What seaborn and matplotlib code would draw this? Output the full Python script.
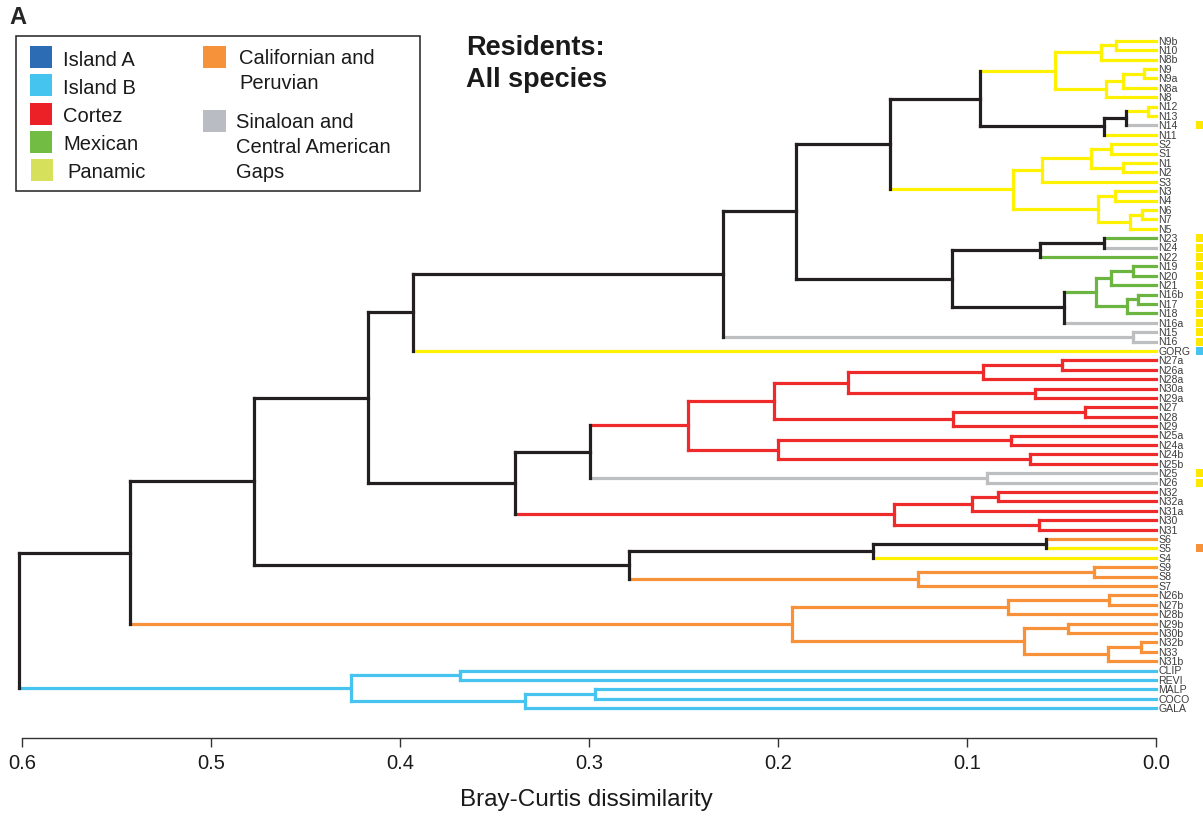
import matplotlib
matplotlib.use("Agg")
import matplotlib.pyplot as plt
import seaborn as sns
from matplotlib.patches import Rectangle
from matplotlib.transforms import blended_transform_factory

# leaves, top to bottom
leaves = ["N9b", "N10", "N8b", "N9", "N9a", "N8a", "N8", "N12", "N13", "N14", "N11",
          "S2", "S1", "N1", "N2", "S3", "N3", "N4", "N6", "N7", "N5",
          "N23", "N24", "N22", "N19", "N20", "N21", "N16b", "N17", "N18", "N16a",
          "N15", "N16", "GORG",
          "N27a", "N26a", "N28a", "N30a", "N29a", "N27", "N28", "N29",
          "N25a", "N24a", "N24b", "N25b", "N25", "N26",
          "N32", "N32a", "N31a", "N30", "N31",
          "S6", "S5", "S4", "S9", "S8", "S7",
          "N26b", "N27b", "N28b", "N29b", "N30b", "N32b", "N33", "N31b",
          "CLIP", "REVI", "MALP", "COCO", "GALA"]

# province of each leaf (P panamic, G gaps, M mexican, C cortez, O californian, B island B)
leaf_groups = (["P"] * 9 + ["G", "P"] + ["P"] * 10 +
               ["M", "G", "M"] + ["M"] * 6 + ["G"] +
               ["G", "G", "P"] +
               ["C"] * 12 + ["G", "G"] + ["C"] * 5 +
               ["O", "P", "P", "O", "O", "O"] +
               ["O"] * 8 + ["B"] * 5)

# side markers
marker_leaves = ["N14", "N23", "N24", "N22", "N19", "N20", "N21", "N16b", "N17",
                 "N18", "N16a", "N15", "N16", "GORG", "N25", "N26", "S5"]
marker_groups = ["P"] * 13 + ["B", "P", "P", "O"]

# clusters: (upper, lower, height)
clu_a = ((("N9b", "N10", 0.021), "N8b", 0.029),
         ((("N9", "N9a", 0.0063), "N8a", 0.0176), "N8", 0.0266), 0.0534)
clu_b = ((("N12", "N13", 0.0042), "N14", 0.0159), "N11", 0.0275)
clu_c = (((("S2", "S1", 0.024), ("N1", "N2", 0.0176), 0.0346), "S3", 0.0603),
         (("N3", "N4", 0.0217), (("N6", "N7", 0.0074), "N5", 0.0138), 0.0309), 0.0758)
clu_d = ((("N23", "N24", 0.0275), "N22", 0.0614),
         (((("N19", "N20", 0.0123), "N21", 0.024),
           (("N16b", "N17", 0.0097), "N18", 0.0153), 0.0317), "N16a", 0.0487), 0.108)
clu_e = ((((clu_a, clu_b, 0.0931), clu_c, 0.141), clu_d, 0.1905),
         ("N15", "N16", 0.0122), 0.229)
clu_r1 = (((("N27a", "N26a", 0.0499), "N28a", 0.0917), ("N30a", "N29a", 0.064), 0.1628),
          (("N27", "N28", 0.0376), "N29", 0.1072), 0.202)
clu_r2 = (("N25a", "N24a", 0.0769), ("N24b", "N25b", 0.0667), 0.1998)
clu_r3 = ((("N32", "N32a", 0.0834), "N31a", 0.0972), ("N30", "N31", 0.0619), 0.1386)
clu_r = (((clu_r1, clu_r2, 0.2474), ("N25", "N26", 0.0896), 0.2997), clu_r3, 0.339)
clu_s = ((("S6", "S5", 0.0582), "S4", 0.1496), (("S9", "S8", 0.0328), "S7", 0.1257), 0.2787)
clu_o = ((("N26b", "N27b", 0.0247), "N28b", 0.0785),
         (("N29b", "N30b", 0.0467), (("N32b", "N33", 0.0079), "N31b", 0.0256), 0.0697), 0.1926)
clu_i = (("CLIP", "REVI", 0.3685), (("MALP", "COCO", 0.2968), "GALA", 0.3339), 0.426)
tree = (((((clu_e, "GORG", 0.393), clu_r, 0.417), clu_s, 0.477), clu_o, 0.543), clu_i, 0.6016)

xticks = [0.6, 0.5, 0.4, 0.3, 0.2, 0.1, 0.0]

tree_colors = {"P": "#fff200", "G": "#bcbec0", "M": "#6db541", "C": "#ee2a2b",
               "O": "#f7923a", "B": "#46c3ee", "mix": "#231f20"}
marker_colors = {"P": "#ffe800", "B": "#46c3ee", "O": "#f7923a"}

legend_left = [("Island A", "#2b6cb5"), ("Island B", "#45c4f0"), ("Cortez", "#ec2027"),
               ("Mexican", "#72bc44"), ("Panamic", "#d6e05b")]
legend_right = [("Californian and\nPeruvian", "#f6923a"),
                ("Sinaloan and\nCentral American\nGaps", "#b9bcc3")]

sns.set_theme(style="white")
plt.rcParams["font.family"] = ["Liberation Sans", "DejaVu Sans"]

W, H = 1203, 820
fig = plt.figure(figsize=(W / 100, H / 100), dpi=100)


def px(x, y):
    return x / W, 1 - y / H


ax = fig.add_axes([22 / W, (H - 739) / H, 1134 / W, 739 / H])
ax.set_xlim(0.6, 0.0)
ax.set_ylim((739 - 41.7) / 9.4, -41.7 / 9.4)

group_of = dict(zip(leaves, leaf_groups))
LW = 2.3


def draw(node):
    if isinstance(node, str):
        return leaves.index(node), 0.0, group_of[node]
    up, low, h = node
    yu, hu, gu = draw(up)
    yl, hl, gl = draw(low)
    g = gu if gu == gl else "mix"
    ax.plot([hu, h], [yu, yu], color=tree_colors[gu], lw=LW,
            solid_capstyle="projecting", zorder=2, clip_on=False)
    ax.plot([hl, h], [yl, yl], color=tree_colors[gl], lw=LW,
            solid_capstyle="projecting", zorder=2, clip_on=False)
    ax.plot([h, h], [yu, yl], color=tree_colors[g], lw=LW,
            solid_capstyle="projecting", zorder=3, clip_on=False)
    return (yu + yl) / 2, h, g


draw(tree)

# leaf labels and side markers
tr = blended_transform_factory(ax.transAxes, ax.transData)
for i, name in enumerate(leaves):
    ax.text(1.0018, i, name, transform=tr, ha="left", va="center",
            fontsize=7.6, color="#3c3c3c", clip_on=False)
for name, g in zip(marker_leaves, marker_groups):
    ax.scatter([1.0385], [leaves.index(name)], transform=tr, marker="s", s=26,
               color=marker_colors[g], linewidths=0, clip_on=False, zorder=4)

sns.despine(ax=ax, left=True, top=True, right=True)
ax.spines["bottom"].set_bounds(0.0, 0.6)
ax.spines["bottom"].set_color("#333333")
ax.spines["bottom"].set_linewidth(1.0)
ax.set_yticks([])
ax.set_xticks(xticks)
ax.set_xticklabels([f"{t:.1f}" for t in xticks])
ax.tick_params(axis="x", bottom=True, direction="out", length=6.5, width=1.0,
               color="#333333", labelcolor="#1a1a1a", labelsize=14.5, pad=4)
ax.grid(False)

fig.text(*px(586, 800), "Bray-Curtis dissimilarity", ha="center", va="center",
         fontsize=17.5, color="#1a1a1a")
fig.text(*px(9, 17), "A", ha="left", va="center", fontsize=17, fontweight="bold")
fig.text(*px(466, 64), "Residents:\nAll species", ha="left", va="center",
         fontsize=19.5, fontweight="bold", linespacing=1.3, color="#1a1a1a")

# legend box
fig.patches.append(Rectangle(px(16, 192), 404 / W, 155 / H, transform=fig.transFigure,
                             facecolor="white", edgecolor="#231f20", lw=1.1))
for k, (lab, col) in enumerate(legend_left):
    yc = [58, 86, 115, 143, 171][k]
    xs = 30 if k < 4 else 31
    fig.patches.append(Rectangle(px(xs, yc + 11), 22 / W, 22 / H,
                                 transform=fig.transFigure, facecolor=col, lw=0))
    fig.text(*px(63 if k < 4 else 67, yc + 2), lab, ha="left", va="center",
             fontsize=14.5, color="#1a1a1a")
for (lab, col), ysq, ytx, xt in zip(legend_right, [58, 122], [71, 148], [239, 236]):
    fig.patches.append(Rectangle(px(203, ysq + 11), 23 / W, 22 / H,
                                 transform=fig.transFigure, facecolor=col, lw=0))
    fig.text(*px(xt, ytx), lab, ha="left", va="center", fontsize=14.5,
             linespacing=1.4, color="#1a1a1a")

fig.savefig("out.png", dpi=100)
